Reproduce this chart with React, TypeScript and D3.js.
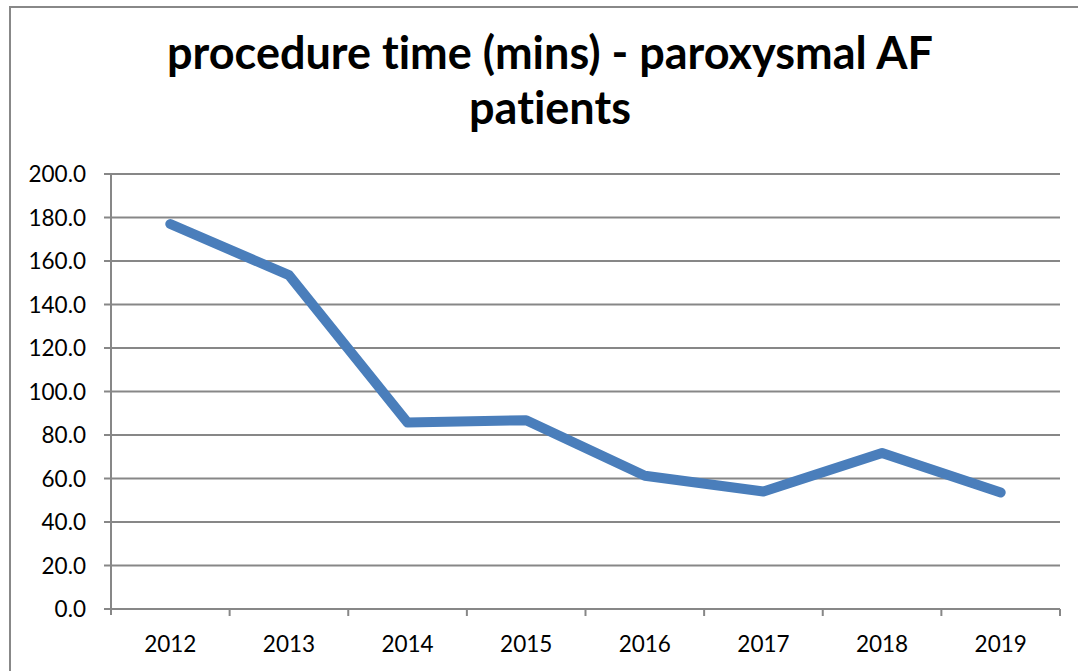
import React, { useRef, useEffect } from "react";
import * as d3 from "d3";

const years = ["2012", "2013", "2014", "2015", "2016", "2017", "2018", "2019"];
const procedureMins = [177.0, 153.5, 85.7, 86.8, 61.3, 54.0, 71.7, 53.6];
const yTicks = [0, 20, 40, 60, 80, 100, 120, 140, 160, 180, 200];
const titleLines = ["procedure time (mins) - paroxysmal AF", "patients"];

const W = 1078;
const H = 671;
const FONT = "Lato, 'Open Sans', 'DejaVu Sans', sans-serif";

const ProcedureChart: React.FC = () => {
  const ref = useRef<SVGSVGElement | null>(null);

  useEffect(() => {
    const svg = d3.select(ref.current);
    svg.selectAll("*").remove();

    const plot = { left: 111, right: 1060, top: 174, bottom: 609 };

    // outer chart frame
    svg
      .append("rect")
      .attr("x", 10)
      .attr("y", 7)
      .attr("width", W + 20)
      .attr("height", H + 20)
      .attr("fill", "#fff")
      .attr("stroke", "#888")
      .attr("stroke-width", 2);

    const x = d3.scaleBand().domain(years).range([plot.left, plot.right]);
    const y = d3.scaleLinear().domain([0, 200]).range([plot.bottom, plot.top]);

    // horizontal gridlines with outward ticks
    svg
      .append("g")
      .selectAll("line")
      .data(yTicks)
      .enter()
      .append("line")
      .attr("x1", plot.left - 7)
      .attr("x2", plot.right)
      .attr("y1", (d) => y(d))
      .attr("y2", (d) => y(d))
      .attr("stroke", "#878787")
      .attr("stroke-width", 2);

    // y axis line
    svg
      .append("line")
      .attr("x1", plot.left)
      .attr("x2", plot.left)
      .attr("y1", plot.top)
      .attr("y2", plot.bottom + 6)
      .attr("stroke", "#878787")
      .attr("stroke-width", 2);

    // x category ticks
    const xEdges = years.map((yr) => x(yr)! + x.bandwidth());
    svg
      .append("g")
      .selectAll("line")
      .data(xEdges)
      .enter()
      .append("line")
      .attr("x1", (d) => d)
      .attr("x2", (d) => d)
      .attr("y1", plot.bottom)
      .attr("y2", plot.bottom + 7)
      .attr("stroke", "#878787")
      .attr("stroke-width", 2);

    // y labels
    svg
      .append("g")
      .selectAll("text")
      .data(yTicks)
      .enter()
      .append("text")
      .attr("x", 86)
      .attr("y", (d) => y(d) + 8)
      .attr("text-anchor", "end")
      .attr("font-family", FONT)
      .attr("font-size", 22.5)
      .attr("fill", "#000")
      .text((d) => d3.format(".1f")(d));

    // x labels
    svg
      .append("g")
      .selectAll("text")
      .data(years)
      .enter()
      .append("text")
      .attr("x", (d) => x(d)! + x.bandwidth() / 2)
      .attr("y", 652)
      .attr("text-anchor", "middle")
      .attr("font-family", FONT)
      .attr("font-size", 22.5)
      .attr("fill", "#000")
      .text((d) => d);

    // line
    const line = d3
      .line<number>()
      .x((_, i) => x(years[i])! + x.bandwidth() / 2)
      .y((d) => y(d));

    svg
      .append("path")
      .datum(procedureMins)
      .attr("fill", "none")
      .attr("stroke", "#4a7ebb")
      .attr("stroke-width", 10)
      .attr("stroke-linecap", "round")
      .attr("stroke-linejoin", "round")
      .attr("d", line);

    // title
    svg
      .selectAll(".title")
      .data(titleLines)
      .enter()
      .append("text")
      .attr("class", "title")
      .attr("x", 550)
      .attr("y", (_, i) => 69 + i * 55)
      .attr("text-anchor", "middle")
      .attr("font-family", FONT)
      .attr("font-weight", "bold")
      .attr("font-size", 45)
      .style("font-variant-ligatures", "none")
      .attr("fill", "#000")
      .text((d) => d);
  }, []);

  return (
    <svg
      ref={ref}
      width={W}
      height={H}
      style={{ position: "absolute", left: 0, top: 0, background: "#fff" }}
    />
  );
};

export default function App() {
  return <ProcedureChart />;
}
